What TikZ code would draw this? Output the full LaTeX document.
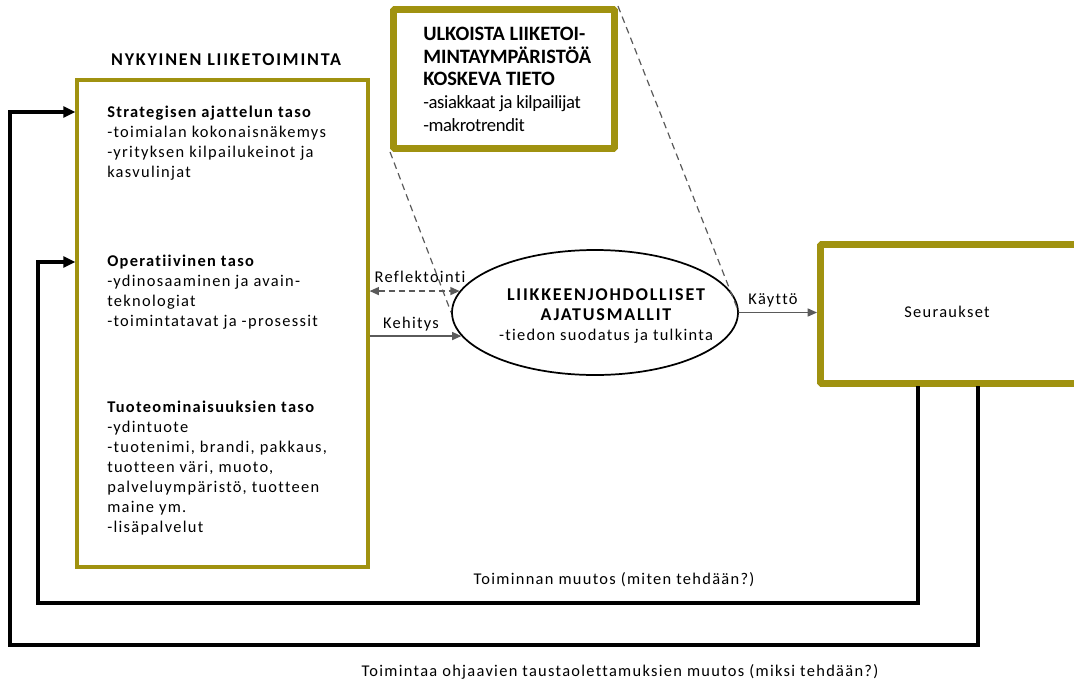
\documentclass[tikz,border=0pt]{standalone}
\usepackage{fontspec}
\setmainfont{Carlito}[Ligatures=NoCommon]
\newfontfamily\bodyfont[LetterSpace=8,Ligatures=NoCommon]{Carlito}
\newfontfamily\capsfont[LetterSpace=10,Ligatures=NoCommon]{Carlito}
\newfontfamily\tightfont[LetterSpace=-2,Ligatures=NoCommon]{Carlito}
\usetikzlibrary{shapes.geometric,arrows.meta}
\definecolor{olivebox}{RGB}{160,146,16}
\definecolor{linkgray}{RGB}{90,90,90}

\tikzset{
	levelbox/.style={draw=olivebox, line width=2.4pt, fill=white},
	heavybox/.style={draw=olivebox, line width=5.2pt, fill=white, rounded corners=1pt},
	body/.style={anchor=north west, align=left, inner sep=0pt, font=\bodyfont\fontsize{12.3}{15}\selectfont},
	label/.style={inner sep=0pt, font=\bodyfont\fontsize{12.3}{15}\selectfont},
	capsbold/.style={font=\capsfont\bfseries\fontsize{13.5}{16}\selectfont},
	fb/.style={line width=3pt, -{Triangle[length=9pt,width=8pt]}},
	link/.style={draw=linkgray, line width=1.1pt},
	funnel/.style={draw=linkgray, line width=0.9pt, dash pattern=on 5pt off 3.5pt},
}

\begin{document}
\begin{tikzpicture}[x=0.75pt, y=-0.75pt]
		\useasboundingbox (0,0) rectangle (1074,686);

		\node[label, capsbold] at (226,60) (title) {NYKYINEN LIIKETOIMINTA};
		\node[levelbox, minimum width=218.25pt, minimum height=365.25pt] at (222.5,323.5) (cur) {};
		\node[body] at (107,106) (strat) {{\bfseries Strategisen ajattelun taso}\\-toimialan kokonaisnäkemys\\-yrityksen kilpailukeinot ja\\kasvulinjat};
		\node[body] at (107,255) (oper) {{\bfseries Operatiivinen taso}\\-ydinosaaminen ja avain-\\teknologiat\\-toimintatavat ja -prosessit};
		\node[body] at (107,401) (prod) {{\bfseries Tuoteominaisuuksien taso}\\-ydintuote\\-tuotenimi, brandi, pakkaus,\\tuotteen väri, muoto,\\palveluympäristö, tuotteen\\maine ym.\\-lisäpalvelut};

		\node[heavybox, minimum width=165.75pt, minimum height=104.25pt] at (504,79) (ext) {};
		\node[body, font=\tightfont\fontsize{14}{17}\selectfont] at (423,27) (exttxt) {{\rmfamily\bfseries\fontsize{15.3}{17}\selectfont ULKOISTA LIIKETOI-}\\{\rmfamily\bfseries\fontsize{15.3}{17}\selectfont MINTAYMPÄRISTÖÄ}\\{\rmfamily\bfseries\fontsize{15.3}{17}\selectfont KOSKEVA TIETO}\\-asiakkaat ja kilpailijat\\-makrotrendit};

		\node[draw, ellipse, line width=1.3pt, fill=white, minimum width=214.5pt, minimum height=93.75pt] at (595,312.5) (mind) {};
		\node[label, align=center] at (606,316) (mindtxt) {{\capsfont\bfseries\fontsize{13.5}{13.5}\selectfont LIIKKEENJOHDOLLISET}\\{\capsfont\bfseries\fontsize{13.5}{13.5}\selectfont AJATUSMALLIT}\\-tiedon suodatus ja tulkinta};

		\node[heavybox, minimum width=195pt, minimum height=104.25pt] at (950.5,314) (res) {};
		\node[label] at (947,312) (restxt) {Seuraukset};

		\draw[funnel] (ext.south west) -- (mind.west);
		\draw[funnel] (ext.north east) -- (mind.east);

		\draw[link, dash pattern=on 4.5pt off 3pt, {Triangle[length=7pt,width=6pt]}-{Triangle[length=7pt,width=6pt]}] (cur.east |- mind.171) -- (mind.171);
		\node[label] at (420,277) (refl) {Reflektointi};
		\draw[link, -{Triangle[length=7pt,width=6pt]}] (cur.east |- mind.190) -- (mind.190);
		\node[label] at (411,324) (keh) {Kehitys};
		\draw[link, -{Triangle[length=7pt,width=6pt]}] (mind.east) -- (mind.east -| res.west);
		\node[label] at (773,300) (kay) {Käyttö};

		\coordinate (s1) at (918,386);
		\coordinate (s2) at (978,386);
		\coordinate (in1) at (38,603);
		\coordinate (in2) at (38,262);
		\coordinate (out1) at (10,645);
		\coordinate (out2) at (10,112);
		\draw[fb] (s1) |- (in1) -- (in2) -- (in2 -| cur.west);
		\draw[fb] (s2) |- (out1) -- (out2) -- (out2 -| cur.west);
		\node[label] at (614,580) (chg1) {Toiminnan muutos (miten tehdään?)};
		\node[label] at (620,672) (chg2) {Toimintaa ohjaavien taustaolettamuksien muutos (miksi tehdään?)};
	\end{tikzpicture}
\end{document}
